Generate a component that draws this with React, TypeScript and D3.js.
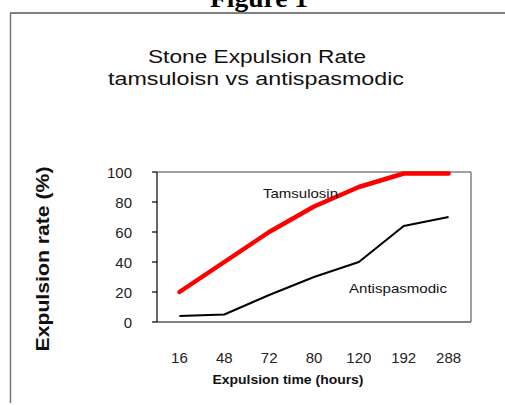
import React from 'react';
import * as d3 from 'd3';

// Expulsion time categories (hours)
const hours = ['16', '48', '72', '80', '120', '192', '288'];
// Stone expulsion rate (%)
const tamsulosin = [20, 40, 60, 77, 90, 99, 99];
const antispasmodic = [4, 5, 18, 30, 40, 64, 70];
const yTicks = [0, 20, 40, 60, 80, 100];

const W = 505;
const H = 405;

const App: React.FC = () => {
  const plot = { left: 157, right: 471, top: 172, bottom: 322 };

  const x = d3.scaleBand<string>()
    .domain(hours)
    .range([plot.left, plot.right]);

  const y = d3.scaleLinear()
    .domain([0, 100])
    .range([plot.bottom, plot.top]);

  const line = d3.line<number>()
    .x((_, i) => (x(hours[i]) ?? 0) + x.bandwidth() / 2)
    .y(d => y(d));

  const sans = 'Liberation Sans, Arial, sans-serif';

  return (
    <svg
      width={W}
      height={H}
      style={{ position: 'absolute', left: 0, top: 0, background: '#fff' }}
    >
      {/* figure caption, mostly cut off at the top */}
      <text x={259} y={7} textAnchor="middle" fontFamily="Liberation Serif, Times New Roman, serif"
        fontWeight="bold" fontSize={26} textLength={98} lengthAdjust="spacingAndGlyphs">Figure 1</text>

      {/* outer frame */}
      <line x1={10} x2={W} y1={13} y2={13} stroke="#000" strokeWidth={1.2} />
      <line x1={10.5} x2={10.5} y1={13} y2={403} stroke="#777" strokeWidth={1.5} />

      {/* chart title */}
      <text x={257} y={63} textAnchor="middle" fontFamily={sans} fontSize={17.5}
        textLength={218} lengthAdjust="spacingAndGlyphs" fill="#111">Stone Expulsion Rate</text>
      <text x={256} y={85} textAnchor="middle" fontFamily={sans} fontSize={17.5}
        textLength={296} lengthAdjust="spacingAndGlyphs" fill="#111">tamsuloisn vs antispasmodic</text>

      {/* plot area border */}
      <line x1={plot.left} x2={plot.right} y1={plot.top} y2={plot.top} stroke="#808080" strokeWidth={1.5} />
      <line x1={plot.right} x2={plot.right} y1={plot.top} y2={plot.bottom} stroke="#808080" strokeWidth={1.5} />
      <line x1={plot.left} x2={plot.right} y1={plot.bottom} y2={plot.bottom} stroke="#5a5a5a" strokeWidth={1.5} />
      <line x1={plot.left} x2={plot.left} y1={plot.top} y2={plot.bottom} stroke="#000" strokeWidth={1.2} />

      {/* y axis ticks and labels */}
      {yTicks.map(t => (
        <g key={t}>
          <line x1={plot.left - 5} x2={plot.left} y1={y(t)} y2={y(t)} stroke="#000" strokeWidth={1.2} />
          <text x={132} y={y(t) + 5.5} textAnchor="end" fontFamily={sans} fontSize={15} fill="#222">{t}</text>
        </g>
      ))}

      {/* x axis labels */}
      {hours.map(h => (
        <text key={h} x={(x(h) ?? 0) + x.bandwidth() / 2} y={363} textAnchor="middle"
          fontFamily={sans} fontSize={15} fill="#222">{h}</text>
      ))}

      {/* series */}
      <path d={line(antispasmodic) ?? ''} fill="none" stroke="#000" strokeWidth={2} strokeLinejoin="round" />
      <path d={line(tamsulosin) ?? ''} fill="none" stroke="#ff0000" strokeWidth={4.5}
        strokeLinejoin="round" strokeLinecap="round" />

      {/* series labels */}
      <text x={263} y={198} fontFamily={sans} fontSize={13} textLength={75} lengthAdjust="spacingAndGlyphs" fill="#111">Tamsulosin</text>
      <text x={349} y={293} fontFamily={sans} fontSize={13} textLength={98} lengthAdjust="spacingAndGlyphs" fill="#111">Antispasmodic</text>

      {/* axis titles */}
      <text x={288} y={384} textAnchor="middle" fontFamily={sans} fontWeight="bold" fontSize={12}
        textLength={151} lengthAdjust="spacingAndGlyphs" fill="#111">Expulsion time (hours)</text>
      <text transform={`translate(49,259) rotate(-90)`} textAnchor="middle" fontFamily={sans}
        fontWeight="bold" fontSize={18} textLength={185} lengthAdjust="spacingAndGlyphs" fill="#111">Expulsion rate (%)</text>
    </svg>
  );
};

export default App;
